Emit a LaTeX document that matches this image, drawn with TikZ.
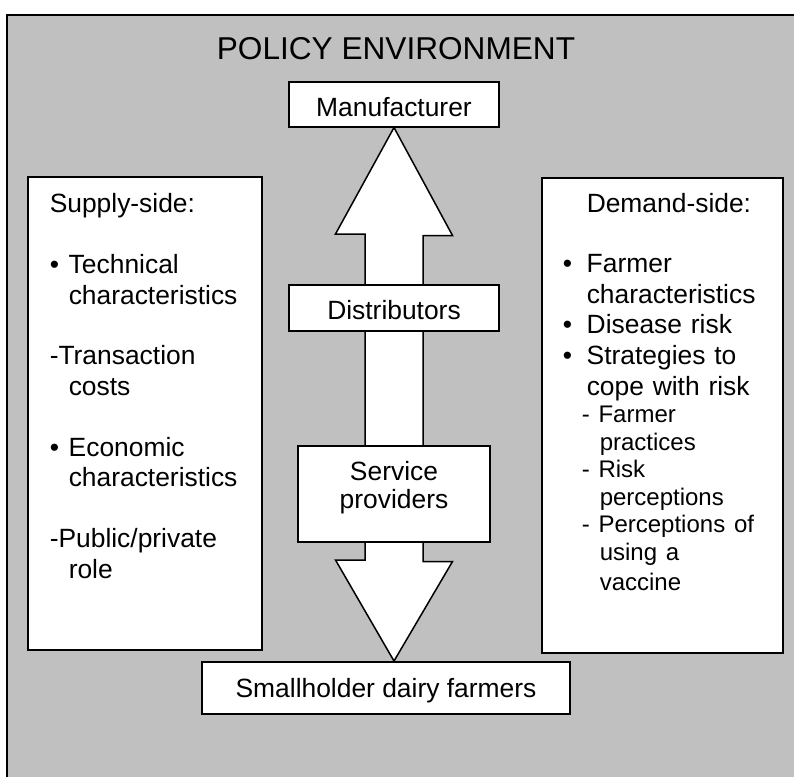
\documentclass[tikz,border=0pt]{standalone}
\usepackage{fontspec}
\setmainfont{Liberation Sans}
\usetikzlibrary{backgrounds}

\definecolor{envgray}{RGB}{192,192,192}

\tikzset{
  textbox/.style={draw, line width=1.5pt, fill=white, inner sep=0pt, anchor=north,
    text height=35pt, font=\fontsize{26.4}{28}\selectfont},
  sidebox/.style={textbox, anchor=north west, align=left,
    font=\fontsize{26.4}{30.7}\selectfont},
  blockarrow/.style={draw, line width=1.5pt, fill=white, line join=miter}
}

% hanging label in front of a list line
\newcommand{\itm}[2][19pt]{\makebox[#1][l]{#2}}

\begin{document}
\begin{tikzpicture}[x=1pt,y=-1pt]
\useasboundingbox (0,0) rectangle (794,777);

\node[font=\fontsize{31.6}{36}\selectfont, anchor=base] (policy) at (396,59) {POLICY ENVIRONMENT};

% the chain
\node[textbox, minimum width=210, text depth=10pt] (manuf) at (394,81) {Manufacturer};
\node[textbox, minimum width=210, text depth=11pt] (distrib) at (394,284) {Distributors};
\node[textbox, minimum width=192, text height=63pt, text depth=33pt, align=center] (service) at (394,445) {Service\\providers};
\node[textbox, minimum width=368, text height=36pt, text depth=16pt] (farmers) at (386,661) {Smallholder dairy farmers};

% side boxes
\node[sidebox, text width=190pt, inner xsep=22pt, text height=36pt, text depth=437pt] (supply) at (27,176) {%
Supply-side:\\[30pt]
\itm{•}Technical\\
\itm{}characteristics\\[30pt]
-Transaction\\
\itm{}costs\\[30pt]
\itm{•}Economic\\
\itm{}characteristics\\[30pt]
-Public/private\\
\itm{}role};

\node[sidebox, text width=199pt, inner xsep=21pt, text depth=440pt] (demand) at (541,177) {%
\itm[24pt]{}Demand-side:\\[29pt]
\itm[24pt]{•}Farmer\\
\itm[24pt]{}characteristics\\
\itm[24pt]{•}Disease risk\\
\itm[24pt]{•}Strategies to\\
\itm[24pt]{}cope with risk\par
\fontsize{24}{27.5}\selectfont
\itm{}- Farmer\\
\itm[37pt]{}practices\\
\itm{}- Risk\\
\itm[37pt]{}perceptions\\
\itm{}- Perceptions of\\
\itm[37pt]{}using a\\
\itm[37pt]{}vaccine};

\begin{scope}[on background layer]
  \fill[envgray] (7,15) rectangle (794,777);
  \draw[line width=2pt] (7,777) |- (794,15);
  % two-headed block arrow behind the chain
  \draw[blockarrow] (manuf.south) -- ++(58.5,108) -- ++(-29.5,0) -- ++(0,326)
    -- ++(29.5,0) -- (manuf.south |- farmers.north) -- ++(-58.5,-101)
    -- ++(29.5,0) -- ++(0,-326) -- ++(-29.5,0) -- cycle;
\end{scope}
\end{tikzpicture}
\end{document}
